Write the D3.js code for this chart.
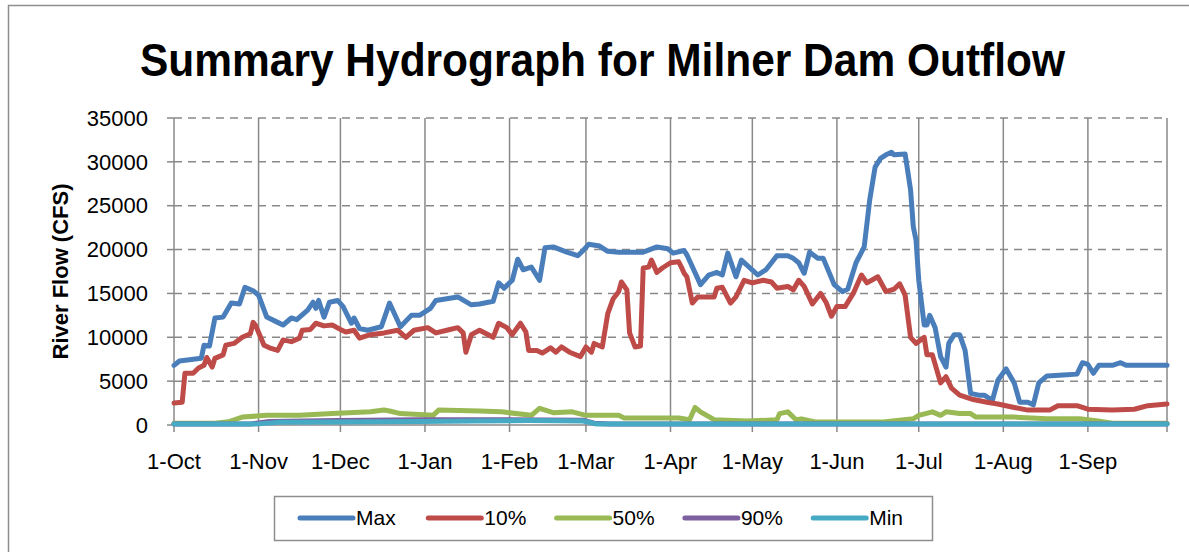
<!DOCTYPE html>
<html>
<head>
<meta charset="utf-8">
<script src="https://cdn.jsdelivr.net/npm/d3@7"></script>
<style>
  body { margin: 0; background: #fff; }
  svg { display: block; font-family: 'Liberation Sans', Arial, sans-serif; }
</style>
</head>
<body>
<div id="frame"></div>
<script>
// day of water year (0 = 1-Oct), flow in cfs
const maxFlow = [
  [0, 6800], [2, 7300], [10, 7600], [11, 9100], [13, 9000], [15, 12200], [18, 12300], [21, 13900],
  [24, 13800], [26, 15700], [29, 15300], [31, 14800], [34, 12300], [38, 11700], [40, 11400], [43, 12200],
  [45, 12000], [49, 13100], [51, 14000], [52, 13300], [53, 14200], [55, 12300], [57, 14000], [60, 14200],
  [62, 13500], [65, 11600], [66, 12200], [68, 11000], [71, 10800], [76, 11200], [79, 13900], [83, 11200],
  [87, 12500], [90, 12500], [94, 13300], [96, 14200], [104, 14600], [109, 13700], [112, 13800], [117, 14100],
  [119, 16200], [121, 15600], [124, 16500], [126, 18900], [128, 17700], [131, 18000], [134, 16500], [136, 20200],
  [139, 20300], [144, 19700], [148, 19300], [150, 19900], [152, 20600], [156, 20400], [159, 19800], [163, 19700],
  [172, 19700], [177, 20300], [181, 20100], [183, 19600], [187, 19900], [188, 19400], [193, 16000], [196, 17100],
  [199, 17400], [201, 17100], [203, 19600], [206, 16900], [208, 18800], [214, 17100], [217, 17700], [221, 19300],
  [225, 19300], [227, 19000], [229, 18500], [231, 17300], [233, 19700], [236, 19000], [238, 19000], [242, 16000],
  [245, 15200], [247, 15500], [250, 18500], [253, 20300], [255, 25600], [257, 29400], [259, 30400], [261, 30800],
  [263, 31100], [264, 30800], [268, 30900], [270, 26800], [271, 22600], [272, 21100], [273, 16500], [275, 11400],
  [276, 11400], [277, 12500], [279, 11100], [281, 7800], [283, 6600], [284, 9300], [286, 10300], [288, 10300],
  [290, 8500], [292, 3600], [295, 3400], [297, 3400], [300, 2800], [302, 5100], [305, 6400], [308, 4800],
  [310, 2600], [313, 2600], [315, 2300], [317, 4800], [320, 5600], [326, 5700], [331, 5800], [333, 7100],
  [335, 6900], [337, 5900], [339, 6800], [344, 6800], [347, 7100], [349, 6800], [357, 6800], [364, 6800]
]

const p10Flow = [
  [0, 2500], [3, 2600], [4, 5900], [7, 5900], [9, 6500], [11, 6800], [12, 7700], [14, 6600],
  [15, 7600], [18, 8000], [19, 9100], [22, 9300], [25, 10000], [28, 10400], [29, 11700], [30, 11300],
  [33, 9100], [35, 8800], [38, 8500], [40, 9700], [43, 9500], [46, 9900], [47, 10800], [50, 10900],
  [52, 11600], [55, 11300], [58, 11400], [61, 10900], [63, 10600], [66, 10800], [68, 9900], [72, 10300],
  [77, 10500], [82, 10800], [85, 10000], [88, 10800], [93, 11100], [96, 10500], [100, 10800], [104, 11100],
  [106, 10500], [107, 8300], [109, 10300], [112, 10800], [117, 10000], [119, 11600], [122, 11100], [124, 10300],
  [127, 11600], [129, 10600], [130, 8500], [133, 8500], [135, 8200], [138, 8800], [140, 8300], [142, 8900],
  [145, 8300], [149, 7800], [151, 8900], [153, 8300], [154, 9300], [157, 8900], [159, 12700], [161, 14400],
  [163, 15200], [164, 16300], [166, 15400], [167, 10500], [169, 8900], [171, 9000], [172, 17900], [174, 18000],
  [175, 18800], [177, 17400], [179, 17900], [182, 18500], [185, 18600], [186, 18000], [187, 17300], [188, 16900],
  [190, 13900], [192, 14600], [196, 14600], [198, 14600], [199, 15600], [201, 15700], [204, 13900], [206, 14600],
  [209, 16500], [212, 16200], [216, 16500], [219, 16300], [221, 15600], [225, 15800], [227, 15400], [229, 16500],
  [231, 15800], [234, 13800], [237, 15000], [239, 14000], [241, 12400], [243, 13500], [246, 13500], [249, 15000],
  [252, 17100], [254, 16200], [258, 16900], [261, 15200], [264, 15500], [266, 16100], [268, 14800], [270, 10000],
  [272, 9300], [275, 10000], [276, 8000], [278, 8000], [281, 4800], [283, 5500], [285, 4200], [288, 3400],
  [293, 2900], [298, 2600], [302, 2400], [308, 2000], [313, 1700], [321, 1700], [324, 2200], [331, 2200],
  [335, 1800], [344, 1700], [352, 1800], [357, 2200], [364, 2400]
]

const p50Flow = [
  [0, 200], [15, 200], [20, 370], [25, 900], [34, 1100], [46, 1100], [58, 1300], [72, 1500],
  [77, 1700], [79, 1600], [83, 1300], [95, 1100], [97, 1700], [112, 1600], [120, 1500], [131, 1100],
  [134, 1900], [139, 1400], [146, 1500], [151, 1100], [163, 1100], [165, 800], [185, 800], [189, 600],
  [191, 2000], [193, 1500], [198, 600], [210, 450], [221, 600], [222, 1300], [225, 1500], [228, 600],
  [230, 700], [235, 350], [260, 350], [271, 700], [273, 1100], [278, 1500], [281, 1100], [283, 1500],
  [288, 1300], [292, 1300], [294, 900], [302, 900], [308, 900], [320, 700], [332, 700], [338, 500],
  [344, 200], [364, 200]
]

const p90Flow = [
  [0, 100], [28, 120], [35, 400], [60, 500], [90, 600], [120, 600], [150, 550], [154, 200],
  [160, 120], [364, 100]
]

const minFlow = [
  [0, 100], [30, 100], [38, 300], [60, 350], [90, 400], [110, 450], [130, 500], [150, 450],
  [155, 100], [364, 100]
]

const seriesNames = ['Max', '10%', '50%', '90%', 'Min']
const seriesColors = ['#4a7ebb', '#be4b48', '#98b954', '#7d60a0', '#46aac5']
const seriesData = [maxFlow, p10Flow, p50Flow, p90Flow, minFlow]

const monthLabels = ['1-Oct', '1-Nov', '1-Dec', '1-Jan', '1-Feb', '1-Mar', '1-Apr', '1-May', '1-Jun', '1-Jul', '1-Aug', '1-Sep']
const monthStarts = [0, 31, 61, 92, 123, 151, 182, 212, 243, 273, 304, 335]
const yTicks = [0, 5000, 10000, 15000, 20000, 25000, 30000, 35000]

const width = 1189
const height = 552
const plot = { left: 174, right: 1167, top: 118, bottom: 425 }
const gridColor = '#898989'
const lineWidth = 5

const x = d3.scaleLinear().domain([0, 364]).range([plot.left, plot.right])
const y = d3.scaleLinear().domain([0, 35000]).range([plot.bottom, plot.top])

const svg = d3.select('#frame')
  .append('svg')
  .attr('width', width)
  .attr('height', height)

// outer chart border, only left and top edges land inside the picture
svg.append('rect')
  .attr('x', 8.5)
  .attr('y', 5.5)
  .attr('width', 1300)
  .attr('height', 700)
  .attr('fill', 'none')
  .attr('stroke', '#8e8e8e')
  .attr('stroke-width', 1.5)

// squeeze a bigger font into the reference width (Calibri is narrower)
svg.append('text')
  .attr('x', 140)
  .attr('y', 76)
  .attr('font-size', 46)
  .attr('font-weight', 'bold')
  .attr('textLength', 925)
  .attr('lengthAdjust', 'spacingAndGlyphs')
  .text('Summary Hydrograph for Milner Dam Outflow')

// horizontal dashed gridlines + y ticks
const yAxis = svg.append('g').attr('class', 'y-axis')
yAxis.selectAll('line.grid')
  .data(yTicks.filter(d => d > 0))
  .join('line')
  .attr('class', 'grid')
  .attr('x1', plot.left)
  .attr('x2', plot.right)
  .attr('y1', d => y(d))
  .attr('y2', d => y(d))
  .attr('stroke', gridColor)
  .attr('stroke-width', 1.5)
  .attr('stroke-dasharray', '8,6')

yAxis.selectAll('line.tick')
  .data(yTicks)
  .join('line')
  .attr('class', 'tick')
  .attr('x1', plot.left - 7)
  .attr('x2', plot.left)
  .attr('y1', d => y(d))
  .attr('y2', d => y(d))
  .attr('stroke', gridColor)
  .attr('stroke-width', 1.5)

yAxis.selectAll('text')
  .data(yTicks)
  .join('text')
  .attr('x', 148)
  .attr('y', d => y(d))
  .attr('dy', '0.35em')
  .attr('text-anchor', 'end')
  .attr('font-size', 22)
  .text(d => d)

// vertical month gridlines, run past the axis as tick marks
const xAxis = svg.append('g').attr('class', 'x-axis')
xAxis.selectAll('line')
  .data(monthStarts.concat([364]))
  .join('line')
  .attr('x1', d => x(d))
  .attr('x2', d => x(d))
  .attr('y1', plot.top)
  .attr('y2', plot.bottom + 7)
  .attr('stroke', gridColor)
  .attr('stroke-width', 1.5)

xAxis.append('line')
  .attr('x1', plot.left)
  .attr('x2', plot.right)
  .attr('y1', plot.bottom)
  .attr('y2', plot.bottom)
  .attr('stroke', gridColor)
  .attr('stroke-width', 1.5)

xAxis.selectAll('text')
  .data(monthStarts)
  .join('text')
  .attr('x', d => x(d))
  .attr('y', 469)
  .attr('text-anchor', 'middle')
  .attr('font-size', 22)
  .text((d, i) => monthLabels[i])

svg.append('text')
  .attr('transform', `translate(68, ${(plot.top + plot.bottom) / 2}) rotate(-90)`)
  .attr('text-anchor', 'middle')
  .attr('font-size', 22)
  .attr('font-weight', 'bold')
  .text('River Flow (CFS)')

const line = d3.line()
  .x(d => x(d[0]))
  .y(d => y(d[1]))

svg.append('g')
  .selectAll('path')
  .data(seriesData)
  .join('path')
  .attr('d', line)
  .attr('fill', 'none')
  .attr('stroke', (d, i) => seriesColors[i])
  .attr('stroke-width', lineWidth)
  .attr('stroke-linejoin', 'round')
  .attr('stroke-linecap', 'round')

// legend
const legend = svg.append('g').attr('class', 'legend')
legend.append('rect')
  .attr('x', 274.5)
  .attr('y', 496.5)
  .attr('width', 658)
  .attr('height', 44)
  .attr('fill', '#fff')
  .attr('stroke', '#8e8e8e')
  .attr('stroke-width', 1.5)

const items = legend.selectAll('g.item')
  .data(seriesNames)
  .join('g')
  .attr('class', 'item')
  .attr('transform', (d, i) => `translate(${300 + i * 128.3}, 518)`)

items.append('line')
  .attr('x1', 0)
  .attr('x2', 53)
  .attr('stroke', (d, i) => seriesColors[i])
  .attr('stroke-width', lineWidth)
  .attr('stroke-linecap', 'round')

items.append('text')
  .attr('x', 56)
  .attr('dy', '0.35em')
  .attr('font-size', 21)
  .text(d => d)
</script>
</body>
</html>
